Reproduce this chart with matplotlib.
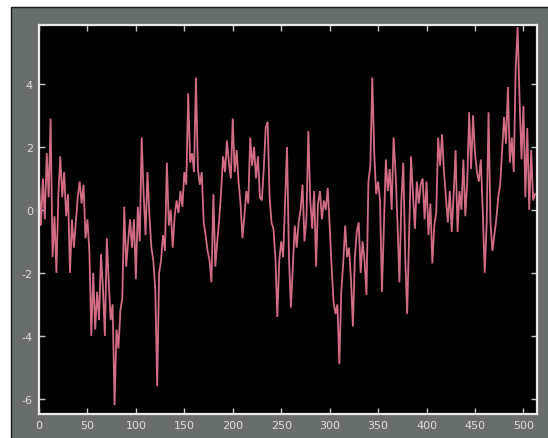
import matplotlib
matplotlib.use("Agg")
import matplotlib.pyplot as plt
from matplotlib.patches import Rectangle
import numpy as np

# Signal samples, one every 2 steps from 0 to 512
sample_step = 2
signal = [
    0.9, -0.5, 1.0, -0.3, 1.8, 0.4, 2.9, -1.5, -0.2, -2.0,
    0.5, 1.7, 0.4, 1.2, -0.2, 0.5, -2.0, -0.3, -1.2, -0.4,
    0.4, 0.9, 0.2, 0.8, -0.9, -0.3, -1.3, -4.0, -2.0, -3.8,
    -2.6, -3.5, -1.4, -2.5, -4.0, -0.9, -2.3, -3.5, -3.0, -6.2,
    -3.8, -4.4, -3.2, -2.8, 0.1, -1.8, -1.0, -0.3, -1.2,
    -0.3, -2.2, 0.1, -1.0, 2.3, 0.5, -0.8, 1.2, -0.2, -1.2,
    -1.6, -2.5, -5.6, -2.0, -1.6, -0.8, -1.3, 1.5, -0.5, 0.0,
    -1.2, -0.2, 0.3, -0.1, 0.6, 0.1, 1.2, 0.8, 3.7, 1.5,
    1.8, 1.2, 4.2, 1.3, 0.8, 1.2, -0.4, -0.8, -1.3, -1.6,
    -2.3, 0.5, -1.8, -1.0, -0.3, 0.6, 1.7, 1.2, 2.2,
    1.5, 1.0, 2.9, 1.2, 1.9, 0.9, 0.2, -0.9, -0.2, 0.6,
    0.2, 2.3, 1.4, 2.0, 1.0, 1.7, 0.4, 0.3, 1.3, 2.6,
    2.8, 0.4, -0.4, -0.6, -1.5, -3.4, -1.6, -1.0, -1.5, 0.3,
    2.0, -1.5, -3.1, -1.8, -0.5, -1.2, -0.4, 0.0, 0.8, -1.0,
    -0.3, 2.5, 0.3, -0.6, 0.6, -1.8, 0.2, 0.6, -0.3, 0.3,
    0.0, 0.7, -0.5, -1.8, -2.9, -3.3, -3.0, -4.9, -2.6, -1.7,
    -0.5, -1.5, -1.2, -2.2, -3.7, -1.5, -0.7, -0.4, -2.0, -1.0,
    -1.6, -2.7, 0.9, 1.4, 4.2, 1.8, 0.5, 0.9, 0.3, -2.6,
    -0.5, 1.6, 0.6, 1.3, 0.0, 2.3, 1.2, -0.4, -2.3, 0.3,
    1.5, -1.5, -3.3, -0.8, 1.7, 0.5, -0.6, 0.9, 0.2, 0.8,
    1.0, -0.3, 0.9, -0.8, 0.2, -1.7, -0.5, -0.1, 2.3, 1.4,
    2.4, 1.2, 0.4, -0.4, 0.6, -0.7, 0.5, 1.9, -0.7, 0.6,
    0.0, 1.6, -0.2, 0.9, 3.1, 1.3, 3.0, 1.8, 1.2, 0.9,
    1.6, 0.0, -2.0, -0.5, 3.1, -0.4, -1.3, -0.8, -0.3, 0.4,
    0.8, 1.9, 2.95, 2.1, 3.9, 1.5, 2.3, 1.2, 4.5,
    5.8, 3.5, 1.6, 3.3, 0.4, 2.6, 0.0, 1.9, 0.3, 0.5,
]
x_ticks = [0, 50, 100, 150, 200, 250, 300, 350, 400, 450, 500]
y_ticks = [-6, -4, -2, 0, 2, 4]

W, H = 548, 439
fig = plt.figure(figsize=(W / 100, H / 100), dpi=100, facecolor="white")

# grey window panel with a dark outline, kept behind the axes
panel_color = "#686e70"
fig.patches.append(Rectangle((10.5 / W, -0.01), 1.02, (H - 7.5) / H + 0.01,
                             transform=fig.transFigure, facecolor=panel_color,
                             edgecolor="#1a1a1a", linewidth=1.0, zorder=-10))

left, right, top, bottom = 38.5, 536.7, 26.0, 415.0
ax = fig.add_axes([left / W, (H - bottom) / H, (right - left) / W, (bottom - top) / H])
ax.set_zorder(5)
ax.set_facecolor("black")

x = np.arange(len(signal)) * sample_step
ax.plot(x, signal, color="#d26c84", linewidth=1.3, solid_joinstyle="miter")

ax.set_xlim(-0.5, 513.7)
ax.set_ylim(-6.48, 5.87)
ax.set_xticks(x_ticks)
ax.set_yticks(y_ticks)
ax.set_xticklabels([str(t) for t in x_ticks])
ax.set_yticklabels([str(t) for t in y_ticks])

label_color = "#dcdedf"
for sp in ax.spines.values():
    sp.set_color("#e8eaeb")
    sp.set_linewidth(1.6)
ax.tick_params(direction="in", length=4, width=1.0, color="#c8cacb",
               top=True, right=True, labelsize=8, labelcolor=label_color, pad=4)

fig.savefig("out.png", dpi=100, facecolor=fig.get_facecolor())
